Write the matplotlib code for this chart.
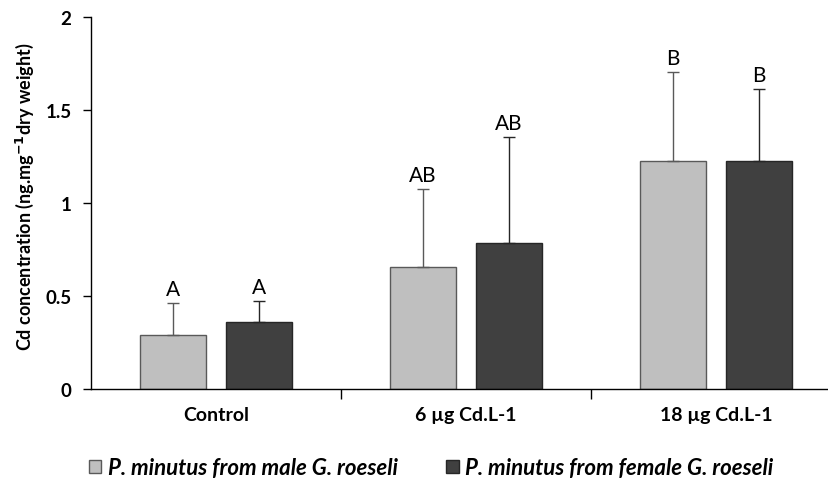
import matplotlib.pyplot as plt
import numpy as np

groups = ["Control", "6 µg Cd.L-1", "18 µg Cd.L-1"]
male_mean = [0.29, 0.655, 1.225]
male_top = [0.465, 1.075, 1.705]
female_mean = [0.36, 0.785, 1.225]
female_top = [0.475, 1.355, 1.615]
male_letters = ["A", "AB", "B"]
female_letters = ["A", "AB", "B"]
series_names = ["P. minutus from male G. roeseli", "P. minutus from female G. roeseli"]

plt.rcParams["font.family"] = ["Lato", "DejaVu Sans"]

fig = plt.figure(figsize=(8.29, 4.81), dpi=100)
ax = fig.add_axes([91 / 829, 91 / 481, 1 - 91 / 829, 372 / 481])

x = np.arange(len(groups))
off = 0.172
w = 0.264

male_err = np.array(male_top) - np.array(male_mean)
female_err = np.array(female_top) - np.array(female_mean)

b1 = ax.bar(x - off, male_mean, w, color="#bfbfbf", edgecolor="#595959", linewidth=1, label=series_names[0])
b2 = ax.bar(x + off, female_mean, w, color="#404040", edgecolor="#262626", linewidth=1, label=series_names[1])
ax.errorbar(x - off, male_mean, yerr=[np.zeros(3), male_err], fmt="none",
            ecolor="#595959", elinewidth=1, capsize=4, capthick=1)
ax.errorbar(x + off, female_mean, yerr=[np.zeros(3), female_err], fmt="none",
            ecolor="#262626", elinewidth=1, capsize=4, capthick=1)

for xi, top, lab in zip(x - off, male_top, male_letters):
    ax.text(xi, top + 0.02, lab, ha="center", va="bottom", fontsize=15)
for xi, top, lab in zip(x + off, female_top, female_letters):
    ax.text(xi, top + 0.02, lab, ha="center", va="bottom", fontsize=15)

ax.set_xlim(-0.5, 2 + 113 / 250)
ax.set_ylim(0, 2)
ax.set_yticks([0, 0.5, 1, 1.5, 2])
ax.set_yticklabels(["0", "0.5", "1", "1.5", "2"], fontweight="bold", fontsize=13.5)
ax.set_xticks(x)
ax.set_xticklabels(groups, fontweight="bold", fontsize=14)
ax.tick_params(axis="x", length=0, pad=12)
ax.set_xticks([0.5, 1.5], minor=True)
ax.tick_params(axis="x", which="minor", length=7, width=1, direction="out")
ax.tick_params(axis="y", length=6, width=1, direction="out", pad=8)

for s in ["top", "right"]:
    ax.spines[s].set_visible(False)
for s in ["left", "bottom"]:
    ax.spines[s].set_linewidth(1)

ax.set_ylabel("Cd concentration (ng.mg$^{\\mathbf{-1}}$dry weight)", fontweight="bold", fontsize=13)
ax.yaxis.set_label_coords(-55 / 738, 0.52)

fig.legend(handles=[b1, b2], loc="center", bbox_to_anchor=(0.52, 1 - 469 / 481), ncol=2,
           frameon=False, prop={"style": "italic", "weight": "bold", "size": 16},
           handlelength=0.55, handleheight=0.55, handletextpad=0.3, columnspacing=2.2)

fig.savefig("out.png", dpi=100)
